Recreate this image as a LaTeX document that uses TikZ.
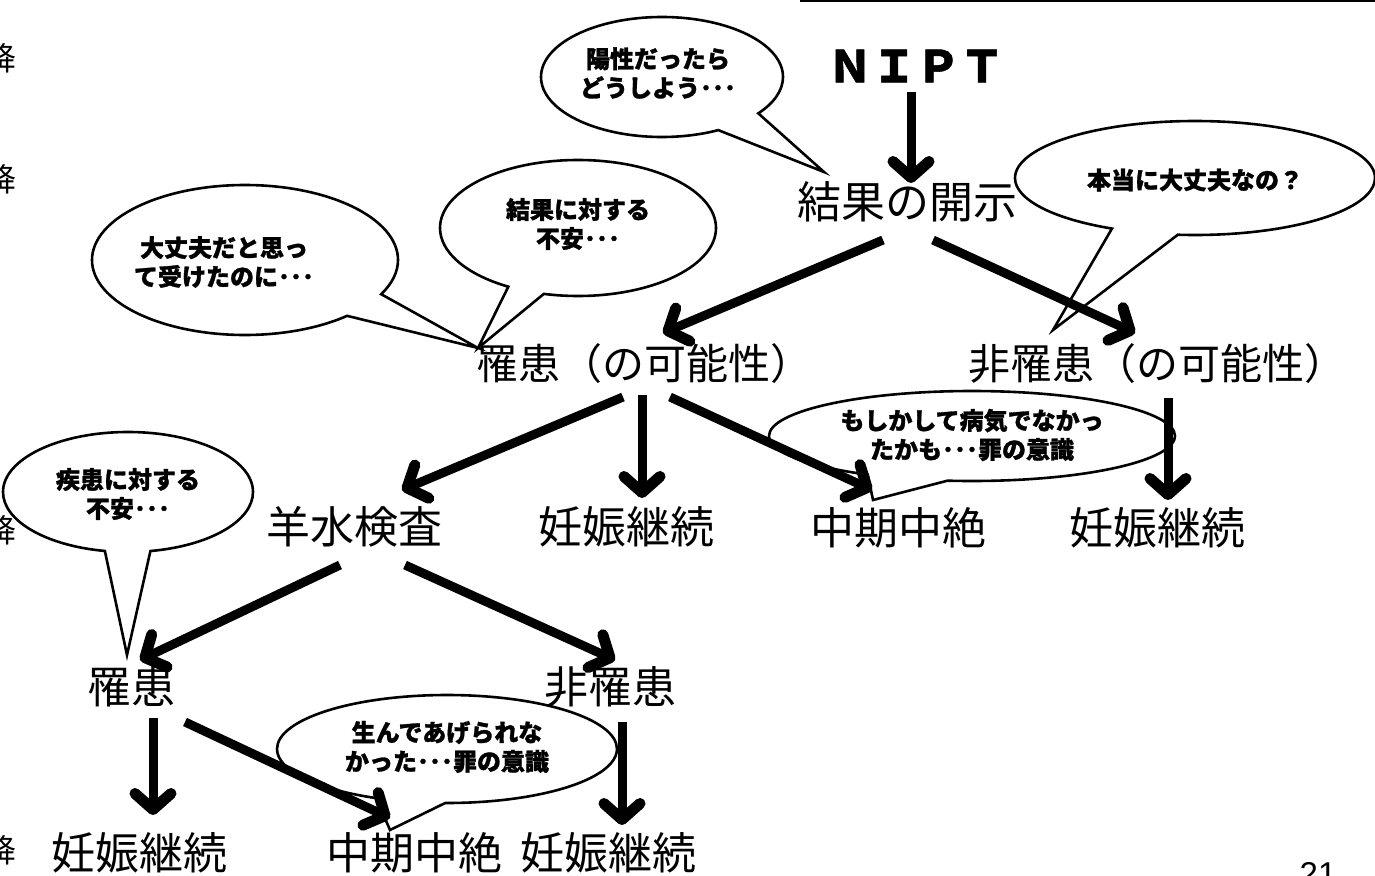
\documentclass[tikz,border=0pt]{standalone}
\usepackage{fontspec}
\newfontfamily\jp{Noto Sans CJK JP}[BoldFeatures={FakeBold=1.2}]
\newfontfamily\lat{Liberation Sans}
\usetikzlibrary{arrows.meta,shapes.callouts}
\newcommand\tdots{･･･}
\begin{document}
\begin{tikzpicture}[x=1pt,y=-1pt,
  lbl/.style={font=\jp\fontsize{44}{44}\selectfont, inner sep=0pt},
  lblm/.style={font=\jp\fontsize{42}{42}\selectfont, inner sep=0pt},
  bub/.style={ellipse callout, draw=black, fill=white, line width=2.6pt, inner sep=0pt},
  btxt/.style={font=\jp\bfseries\fontsize{24}{29}\selectfont, align=center, inner sep=0pt},
  arr/.style={line width=9pt, draw=black, -{Straight Barb[length=16pt,width=36pt,line width=11pt,round]}},
  edgech/.style={font=\jp\fontsize{32}{32}\selectfont, inner sep=0pt}]
\useasboundingbox (0,0) rectangle (1375,875);
\clip (0,0) rectangle (1375,875);
\fill[white] (0,0) rectangle (1375,875);
\draw[line width=1.5pt] (800,0.8) -- (1375,0.8);

% speech bubbles
\node[bub, minimum width=242pt, minimum height=120pt, callout absolute pointer={(824,172)}, callout pointer arc=25] (b1) at (662,77) {};
\node[bub, minimum width=306pt, minimum height=150pt, callout absolute pointer={(478,348)}, callout pointer arc=21] (b2) at (245,260) {};
\node[bub, minimum width=276pt, minimum height=136pt, callout absolute pointer={(478,348)}, callout pointer arc=16] (b3) at (578,228) {};
\node[bub, minimum width=360pt, minimum height=114pt, callout absolute pointer={(1053,330)}, callout pointer arc=22] (b4) at (1195,178) {};
\node[bub, minimum width=406pt, minimum height=90pt, callout absolute pointer={(873,500)}, callout pointer arc=24] (b5) at (972,436) {};
\node[bub, minimum width=250pt, minimum height=120pt, callout absolute pointer={(127,655)}, callout pointer arc=21] (b6) at (128,492) {};
\node[bub, minimum width=340pt, minimum height=108pt, callout absolute pointer={(390,830)}, callout pointer arc=24] (b7) at (447,749) {};

\node[btxt] (t1) at ([shift={(-4,-4)}]b1.center) {陽性だったら\\どうしよう\tdots};
\node[btxt] (t2) at ([shift={(-21,2)}]b2.center) {大丈夫だと思っ\\て受けたのに\tdots};
\node[btxt] (t3) at ([shift={(0,-4)}]b3.center) {結果に対する\\不安\tdots};
\node[btxt] (t4) at ([shift={(0,2)}]b4.center) {本当に大丈夫なの？};
\node[btxt] (t5) at ([shift={(0,-1)}]b5.center) {もしかして病気でなかっ\\たかも\tdots 罪の意識};
\node[btxt] (t6) at ([shift={(0,2)}]b6.center) {疾患に対する\\不安\tdots};
\node[btxt] (t7) at ([shift={(0,-2)}]b7.center) {生んであげられな\\かった\tdots 罪の意識};

% labels
\node[lbl, font=\jp\bfseries\fontsize{44}{44}\selectfont] (nipt) at (916,66) {ＮＩＰＴ};
\node[lbl] (kekka) at (907,202) {結果の開示};
\node[lblm] (r1) at (644,364) {罹患（の可能性）};
\node[lblm] (n1) at (1157,364) {非罹患（の可能性）};
\node[lbl] (yosui) at (354,527) {羊水検査};
\node[lbl] (k1) at (626,527) {妊娠継続};
\node[lbl] (c1) at (898,528) {中期中絶};
\node[lbl] (k2) at (1157,528) {妊娠継続};
\node[lbl] (r2) at (131,687) {罹患};
\node[lbl] (n2) at (610,687) {非罹患};
\node[lbl] (k3) at (139,853) {妊娠継続};
\node[lbl] (c2) at (414,853) {中期中絶};
\node[lbl] (k4) at (608,853) {妊娠継続};

% cut-off side characters and page number
\node[edgech] (e1) at (0,58) {降};
\node[edgech] (e2) at (0,179) {降};
\node[edgech] (e3) at (0,530) {降};
\node[edgech] (e4) at (0,850) {降};
\node[font=\lat\fontsize{33}{33}\selectfont, inner sep=0pt, anchor=north] (pg) at (1318,862) {21};

% arrows
\draw[arr] ([shift={(-5,26)}]nipt.center) -- ([shift={(4,-19)}]kekka.center);
\draw[arr] ([shift={(-24,38)}]kekka.center) -- ([shift={(19,-31)}]r1.center);
\draw[arr] ([shift={(26,38)}]kekka.center) -- ([shift={(-22,-31)}]n1.center);
\draw[arr] ([shift={(-21,33)}]r1.center) -- ([shift={(48,-37)}]yosui.center);
\draw[arr] ([shift={(-2,31)}]r1.center) -- ([shift={(16,-29)}]k1.center);
\draw[arr] ([shift={(26,33)}]r1.center) -- ([shift={(-26,-38)}]c1.center);
\draw[arr] ([shift={(11,34)}]n1.center) -- ([shift={(11,-28)}]k2.center);
\draw[arr] ([shift={(-14,38)}]yosui.center) -- ([shift={(9,-27)}]r2.center);
\draw[arr] ([shift={(51,38)}]yosui.center) -- ([shift={(5,-27)}]n2.center);
\draw[arr] ([shift={(22,31)}]r2.center) -- ([shift={(14,-38)}]k3.center);
\draw[arr] ([shift={(54,35)}]r2.center) -- ([shift={(-24,-35)}]c2.center);
\draw[arr] ([shift={(12,35)}]n2.center) -- ([shift={(14,-28)}]k4.center);
\end{tikzpicture}
\end{document}
